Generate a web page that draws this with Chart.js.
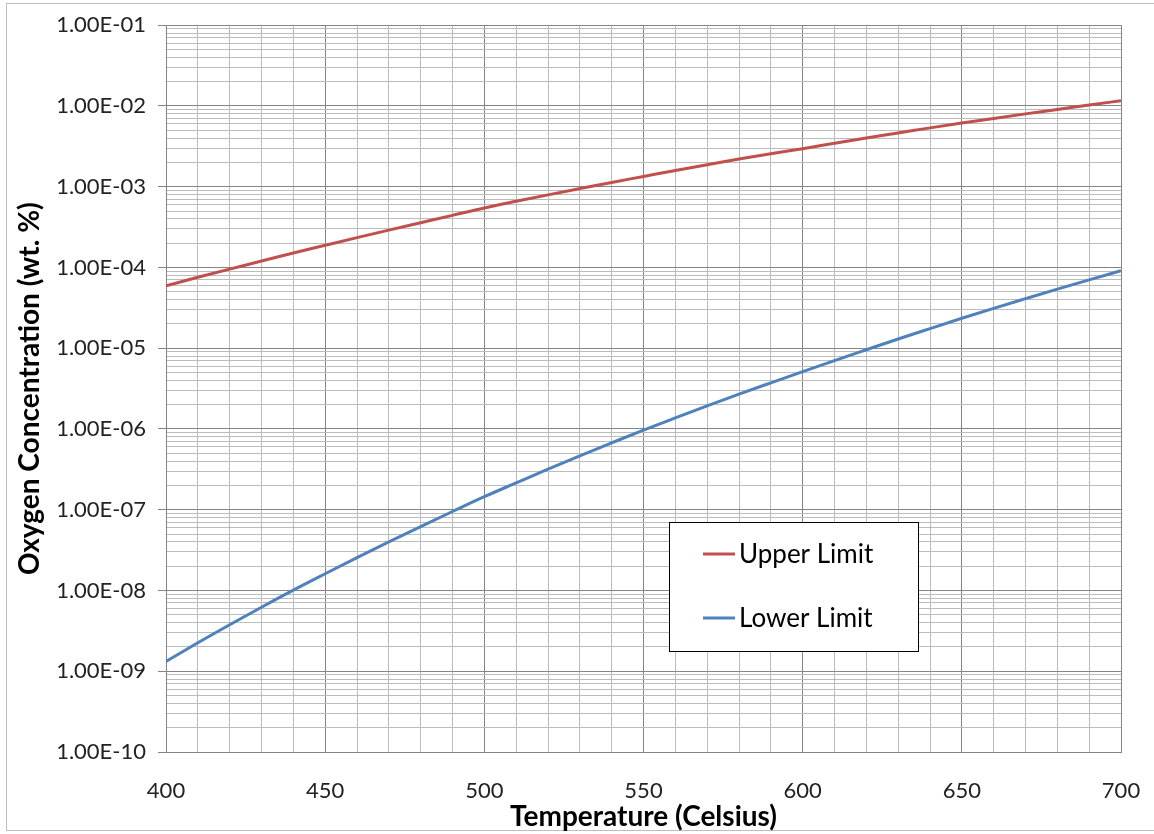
<!DOCTYPE html>
<html>
<head>
<meta charset="utf-8">
<title>Oxygen Concentration Limits</title>
<script src="https://cdn.jsdelivr.net/npm/chart.js@4.4.1/dist/chart.umd.min.js"></script>
<style>
  html, body { margin: 0; padding: 0; background: #fff; }
  #wrap { width: 1154px; height: 834px; position: relative; }
</style>
</head>
<body>
<div id="wrap"><canvas id="limitsChart"></canvas></div>
<script>
// temperature (Celsius) and oxygen concentration (wt. %)
var temperatures = [400, 410, 420, 430, 440, 450, 460, 470, 480, 490, 500,
    510, 520, 530, 540, 550, 560, 570, 580, 590, 600,
    610, 620, 630, 640, 650, 660, 670, 680, 690, 700];

var upperLimit = [5.94e-5, 7.55e-5, 9.55e-5, 1.20e-4, 1.51e-4, 1.88e-4, 2.34e-4, 2.90e-4, 3.58e-4, 4.42e-4, 5.45e-4,
    6.59e-4, 7.93e-4, 9.48e-4, 1.13e-3, 1.34e-3, 1.59e-3, 1.87e-3, 2.20e-3, 2.56e-3, 2.96e-3,
    3.45e-3, 4.01e-3, 4.63e-3, 5.35e-3, 6.14e-3, 7.01e-3, 7.98e-3, 9.06e-3, 1.03e-2, 1.16e-2];

var lowerLimit = [1.32e-9, 2.25e-9, 3.77e-9, 6.21e-9, 1.01e-8, 1.61e-8, 2.55e-8, 3.99e-8, 6.19e-8, 9.51e-8, 1.45e-7,
    2.15e-7, 3.18e-7, 4.65e-7, 6.73e-7, 9.68e-7, 1.37e-6, 1.93e-6, 2.70e-6, 3.73e-6, 5.13e-6,
    7.03e-6, 9.57e-6, 1.30e-5, 1.75e-5, 2.35e-5, 3.12e-5, 4.11e-5, 5.40e-5, 7.03e-5, 9.10e-5];

var xTickLabels = [400, 450, 500, 550, 600, 650, 700];
var yTickLabels = ['1.00E-10', '1.00E-09', '1.00E-08', '1.00E-07', '1.00E-06',
    '1.00E-05', '1.00E-04', '1.00E-03', '1.00E-02', '1.00E-01'];
var yMinorSteps = [2, 3, 4, 5, 6, 7, 8, 9];

var FONT = 'Lato, "Open Sans", sans-serif';
var MAJOR_GRID = '#858585';
var MINOR_GRID = '#bcbcbc';

function isDecade(v) {
    var e = Math.log10(v);
    return Math.abs(e - Math.round(e)) < 1e-9;
}

function toPoints(values) {
    return temperatures.map(function (t, i) { return { x: t, y: values[i] }; });
}

// white page with a thin grey frame
var frame = {
    id: 'frame',
    beforeDraw: function (chart) {
        var ctx = chart.ctx;
        ctx.save();
        ctx.fillStyle = '#fff';
        ctx.fillRect(0, 0, chart.width, chart.height);
        ctx.strokeStyle = '#bdbdbd';
        ctx.lineWidth = 1;
        ctx.strokeRect(6.5, 3.5, chart.width, chart.height - 7);
        ctx.restore();
    }
};

// boxed legend sitting inside the plot
var boxLegend = {
    id: 'boxLegend',
    afterDatasetsDraw: function (chart) {
        var area = chart.chartArea, ctx = chart.ctx;
        var x = Math.round(area.left + 503), y = Math.round(area.top + 497), w = 249, h = 129;
        ctx.save();
        ctx.fillStyle = '#fff';
        ctx.fillRect(x, y, w, h);
        ctx.strokeStyle = '#000';
        ctx.lineWidth = 1;
        ctx.strokeRect(x + 0.5, y + 0.5, w, h);
        ctx.font = '26px ' + FONT;
        ctx.textBaseline = 'middle';
        chart.data.datasets.forEach(function (ds, i) {
            var cy = y + 32 + i * 64;
            ctx.strokeStyle = ds.borderColor;
            ctx.lineWidth = 3;
            ctx.beginPath();
            ctx.moveTo(x + 34, cy);
            ctx.lineTo(x + 66, cy);
            ctx.stroke();
            ctx.fillStyle = '#000';
            ctx.fillText(ds.label, x + 70, cy + 1);
        });
        ctx.restore();
    }
};

var ctx = document.getElementById('limitsChart').getContext('2d');

new Chart(ctx, {
    type: 'line',
    data: {
        datasets: [{
            label: 'Upper Limit',
            data: toPoints(upperLimit),
            borderColor: '#C0504D',
            borderWidth: 3,
            pointRadius: 0,
            cubicInterpolationMode: 'monotone',
            fill: false
        }, {
            label: 'Lower Limit',
            data: toPoints(lowerLimit),
            borderColor: '#4F81BD',
            borderWidth: 3,
            pointRadius: 0,
            cubicInterpolationMode: 'monotone',
            fill: false
        }]
    },
    options: {
        responsive: true,
        maintainAspectRatio: false,
        animation: false,
        layout: { padding: { top: 22, right: 33, left: 0, bottom: 0 } },
        plugins: {
            legend: { display: false },
            tooltip: { enabled: false }
        },
        scales: {
            x: {
                type: 'linear',
                min: 400,
                max: 700,
                afterFit: function (scale) { scale.height = 82; },
                border: { color: MAJOR_GRID, width: 1 },
                grid: {
                    tickLength: 20,
                    tickColor: 'rgba(0,0,0,0)',
                    color: function (c) {
                        return c.tick && c.tick.value % 50 === 0 ? MAJOR_GRID : MINOR_GRID;
                    }
                },
                ticks: {
                    stepSize: 10,
                    autoSkip: false,
                    maxRotation: 0,
                    padding: 6,
                    color: '#222',
                    font: { family: FONT, size: 22 },
                    callback: function (v) {
                        return xTickLabels.indexOf(v) >= 0 ? String(v) : '';
                    }
                },
                title: {
                    display: true,
                    text: 'Temperature (Celsius)',
                    color: '#000',
                    font: { family: FONT, size: 28, weight: 'bold' },
                    padding: { top: 0, bottom: 0 }
                }
            },
            y: {
                type: 'logarithmic',
                min: 1e-10,
                max: 1e-1,
                afterFit: function (scale) { scale.width = 166; },
                afterBuildTicks: function (scale) {
                    var ticks = [];
                    for (var e = -10; e <= -1; e++) {
                        ticks.push({ value: Number('1e' + e), major: true });
                        if (e < -1) {
                            yMinorSteps.forEach(function (m) {
                                ticks.push({ value: Number(m + 'e' + e), major: false });
                            });
                        }
                    }
                    scale.ticks = ticks;
                },
                border: { color: MAJOR_GRID, width: 1 },
                grid: {
                    tickLength: 8,
                    color: function (c) {
                        return c.tick && isDecade(c.tick.value) ? MAJOR_GRID : MINOR_GRID;
                    },
                    tickColor: function (c) {
                        return c.tick && isDecade(c.tick.value) ? MAJOR_GRID : 'rgba(0,0,0,0)';
                    }
                },
                ticks: {
                    autoSkip: false,
                    padding: 12,
                    color: '#222',
                    font: { family: FONT, size: 22 },
                    callback: function (v) {
                        return isDecade(v) ? yTickLabels[Math.round(Math.log10(v)) + 10] : '';
                    }
                },
                title: {
                    display: true,
                    text: 'Oxygen Concentration (wt. %)',
                    color: '#000',
                    font: { family: FONT, size: 28, weight: 'bold' },
                    padding: { top: 13, bottom: 0 }
                }
            }
        }
    },
    plugins: [frame, boxLegend]
});
</script>
</body>
</html>
